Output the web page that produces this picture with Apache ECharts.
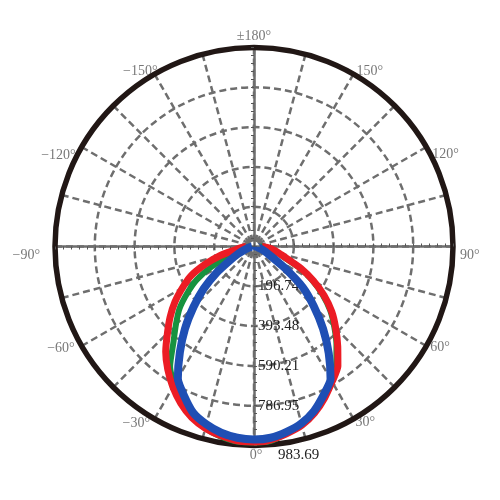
<!DOCTYPE html>
<html><head><meta charset="utf-8">
<script src="https://cdn.jsdelivr.net/npm/echarts@6/dist/echarts.min.js"></script>
<style>html,body{margin:0;padding:0;background:#fff}#c{width:500px;height:500px}</style>
</head><body><div id="c"></div>
<script>
// Angles in degrees (0 = downward, positive toward the right side)
const angles = [-90,-85,-80,-75,-70,-65,-60,-55,-50,-45,-40,-35,-30,-25,-20,-15,-10,-5,0,5,10,15,20,25,30,35,40,45,50,55,60,65,70,75,80,85,90];
// Luminous intensity (cd) per angle
const greenVals = [20,30,44,59,98,221,325,403,482,546,620,723,792,846,895,930,954,969,974,964,935,905,866,816,762,708,634,561,492,413,330,246,162,118,89,59,30];
const redVals   = [39,64,93,172,256,344,408,477,541,605,679,743,802,856,900,930,949,964,969,959,939,915,876,826,772,723,644,571,502,423,339,256,172,128,98,69,39];
const blueVals  = [10,15,20,34,54,89,138,226,325,423,531,639,753,816,876,910,935,949,954,949,930,905,866,812,757,644,531,418,315,187,98,64,39,25,15,10,10];
// Radial tick labels
const radialLabels = ['', '196.74', '393.48', '590.21', '786.95', '983.69'];
const radialMax = 983.69;
const radialStep = radialMax / 5;
// Angle tick labels (every 30°)
const angleLabelValues = [0, 30, 60, 90, 120, 150, 180, -150, -120, -90, -60, -30];
const angleLabelTexts  = ['0°', '30°', '60°', '90°', '120°', '150°', '±180°', '−150°', '−120°', '−90°', '−60°', '−30°'];

// label placement styles (alignment and pixel offsets from the rim point)
const angleLabelStyle = {
  '0': ['center', [2, 10]],
  '30': ['left', [2, 3.5]],
  '60': ['left', [4, 1]],
  '90': ['left', [7, 8.5]],
  '120': ['left', [6, 7]],
  '150': ['left', [3, -3]],
  '180': ['center', [0, -11.5]],
  '-150': ['right', [3, -3]],
  '-120': ['right', [-6, 8.5]],
  '-90': ['right', [-15, 8.5]],
  '-60': ['right', [-7, 2]],
  '-30': ['right', [-4.5, 4]]
};

function toPolarAngle(a) { return a < 0 ? a + 360 : a; }
function toPolar(vals) {
  return angles.map((a, i) => [vals[i], toPolarAngle(a)]);
}

const chart = echarts.init(document.getElementById('c'), null, {renderer: 'canvas'});
const center = [254, 246.5];
const R = 199;
const gray = '#6e6e6e';
const font = 'Liberation Serif';

function extraPolarAxes(idx, start) {
  return {
    angle: {polarIndex: idx, type: 'value', min: 0, max: 360, startAngle: start, clockwise: false, show: false},
    radius: {polarIndex: idx, type: 'value', min: 0, max: radialMax, interval: radialStep,
      axisLine: {show: true, lineStyle: {color: gray, width: 2.5}},
      axisTick: {show: true, length: 3, lineStyle: {color: '#555', width: 1}},
      minorTick: {show: true, splitNumber: 5, length: 3, lineStyle: {color: '#555', width: 1}},
      axisLabel: {show: false}, splitLine: {show: false}}
  };
}
const ex1 = extraPolarAxes(1, 0), ex2 = extraPolarAxes(2, 90), ex3 = extraPolarAxes(3, 180);

const angleLabelData = angleLabelValues.map((a, i) => {
  const st = angleLabelStyle[String(a)];
  return {
    value: [radialMax, toPolarAngle(a)],
    label: {formatter: angleLabelTexts[i], align: st[0], offset: st[1]}
  };
});

chart.setOption({
  animation: false,
  backgroundColor: '#fff',
  polar: [
    {center: center, radius: R},
    {center: center, radius: R},
    {center: center, radius: R},
    {center: center, radius: R}
  ],
  angleAxis: [
    {polarIndex: 0, type: 'value', min: 0, max: 360, interval: 15, startAngle: 270, clockwise: false,
      axisLine: {show: true, lineStyle: {color: '#211715', width: 5.5}},
      axisTick: {show: false},
      axisLabel: {show: false},
      splitLine: {show: true, lineStyle: {color: gray, width: 2.5, type: [7, 4]}}
    },
    ex1.angle, ex2.angle, ex3.angle
  ],
  radiusAxis: [
    {polarIndex: 0, type: 'value', min: 0, max: radialMax, interval: radialStep,
      axisLine: {show: true, lineStyle: {color: gray, width: 2.5}},
      axisTick: {show: true, length: 3, lineStyle: {color: '#555', width: 1}},
      minorTick: {show: true, splitNumber: 5, length: 3, lineStyle: {color: '#555', width: 1}},
      splitLine: {show: true, lineStyle: {color: gray, width: 2.5, type: [7, 4]}},
      axisLabel: {
        color: '#222', fontFamily: font, fontSize: 15, margin: 4,
        formatter: function (v) {
          const i = Math.round(v / radialStep);
          if (i === radialLabels.length - 1) return '{far|' + radialLabels[i] + '}';
          return radialLabels[i] || '';
        },
        rich: {far: {fontFamily: font, fontSize: 15, color: '#222', padding: [20, 0, 0, 20]}}
      }
    },
    ex1.radius, ex2.radius, ex3.radius
  ],
  series: [
    {type: 'scatter', name: 'angleLabels', coordinateSystem: 'polar', polarIndex: 0, z: -1,
      symbolSize: 0, silent: true, data: angleLabelData,
      label: {show: true, position: 'inside', verticalAlign: 'middle', color: '#555', fontFamily: font, fontSize: 14}},
    {type: 'line', name: 'C90', coordinateSystem: 'polar', polarIndex: 0, data: toPolar(greenVals),
      showSymbol: false, smooth: 0.2, lineStyle: {color: '#17923f', width: 6}},
    {type: 'line', name: 'C0', coordinateSystem: 'polar', polarIndex: 0, data: toPolar(redVals),
      showSymbol: false, smooth: 0.2, lineStyle: {color: '#ec1c24', width: 7}},
    {type: 'line', name: 'C45', coordinateSystem: 'polar', polarIndex: 0, data: toPolar(blueVals),
      showSymbol: false, smooth: 0.2, lineStyle: {color: '#1f4fb4', width: 8}}
  ]
});
</script>
</body></html>
